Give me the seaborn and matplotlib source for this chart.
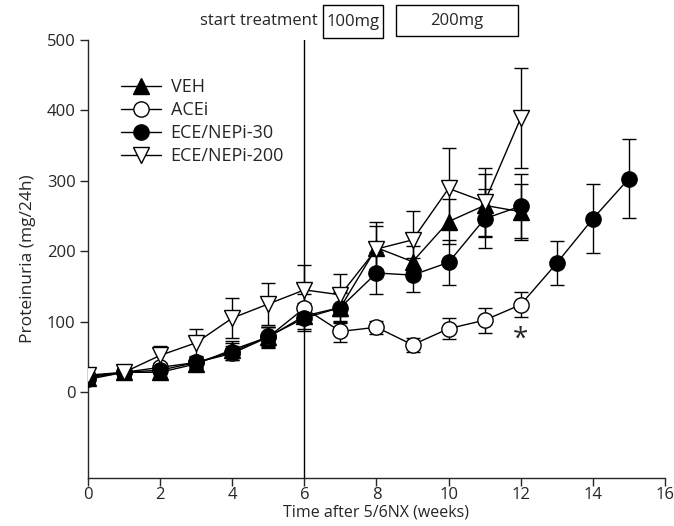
import numpy as np
import pandas as pd
import matplotlib
matplotlib.use('Agg')
import matplotlib.pyplot as plt
from matplotlib.patches import Rectangle
import seaborn as sns

# datos
semanas = [0, 1, 2, 3, 4, 5, 6, 7, 8, 9, 10, 11, 12]
semanas_acei = [0, 1, 2, 3, 4, 5, 6, 7, 8, 9, 10, 11, 12, 13, 14, 15]

veh = [20, 28, 28, 40, 60, 78, 108, 120, 205, 185, 242, 265, 256]
veh_err = [5, 5, 6, 8, 12, 15, 18, 20, 30, 22, 32, 45, 40]

# ACEi: despues de la semana 12 los puntos se dibujan rellenos
acei = [22, 28, 35, 42, 55, 78, 119, 86, 92, 67, 90, 102, 124, 183, 246, 303]
acei_err = [4, 5, 6, 7, 10, 14, 20, 15, 9, 10, 15, 18, 18, 31, 49, 56]
acei_relleno_desde = 13

ece30 = [18, 28, 31, 42, 57, 79, 105, 120, 169, 166, 184, 246, 264]
ece30_err = [4, 5, 6, 8, 12, 14, 18, 22, 30, 24, 32, 42, 45]

ece200 = [24, 28, 52, 70, 105, 125, 145, 138, 203, 216, 289, 270, 389]
ece200_err = [4, 5, 14, 19, 28, 30, 35, 30, 38, 41, 58, 48, 71]

sns.set_style("ticks")
plt.rcParams['font.family'] = ['Open Sans', 'DejaVu Sans']

fig = plt.figure(figsize=(6.74, 5.26), dpi=100)
ax = fig.add_axes([0.1306, 0.0913, 0.856, 0.833])

series = [
    ("VEH", semanas, veh, veh_err, "^", "black"),
    ("ACEi", semanas_acei, acei, acei_err, "o", "white"),
    ("ECE/NEPi-30", semanas, ece30, ece30_err, "o", "black"),
    ("ECE/NEPi-200", semanas, ece200, ece200_err, "v", "white"),
]

for nombre, x, y, err, marca, relleno in series:
    ax.errorbar(x, y, yerr=err, fmt='none', ecolor='black', elinewidth=1,
                capsize=5, capthick=1, zorder=2)

for nombre, x, y, err, marca, relleno in series:
    df = pd.DataFrame({"semana": x, "valor": y})
    extra = {}
    if nombre == "ACEi":
        extra["markevery"] = [i for i, s in enumerate(x) if s < acei_relleno_desde]
    sns.lineplot(data=df, x="semana", y="valor", ax=ax, color="black", lw=1,
                 marker=marca, markersize=11, markerfacecolor=relleno,
                 markeredgecolor="black", markeredgewidth=1, label=nombre,
                 zorder=3, **extra)

df_fin = pd.DataFrame({"semana": semanas_acei, "valor": acei})
df_fin = df_fin[df_fin["semana"] >= acei_relleno_desde]
sns.scatterplot(data=df_fin, x="semana", y="valor", ax=ax, marker="o", s=121,
                color="black", edgecolor="black", linewidth=1, zorder=4, legend=False)

ax.axvline(6, color="black", lw=1, zorder=1)
ax.text(12, 74, "*", ha="center", va="center", fontsize=20)

ax.set_xlim(0, 16)
ax.set_ylim(-122, 500)
ax.set_xticks(range(0, 17, 2))
ax.set_yticks(range(0, 501, 100))
ax.set_xlabel("Time after 5/6NX (weeks)", fontsize=11.5, va="center")
ax.xaxis.set_label_coords(0.5, -0.079)
ax.set_ylabel("Proteinuria (mg/24h)", fontsize=12.5, labelpad=8)
sns.despine(ax=ax)
ax.tick_params(direction="out", length=6, width=1, labelsize=12, pad=3)
ax.tick_params(axis="x", pad=0.5)
for s in ax.spines.values():
    s.set_linewidth(1)

W, H = 674, 526
ax.legend(loc="upper left", bbox_to_anchor=(121 / W, 1 - 78 / H),
          bbox_transform=fig.transFigure, frameon=False, borderpad=0,
          borderaxespad=0, handlelength=2.2, handletextpad=0.55,
          labelspacing=0.28, fontsize=13)

# anotaciones de tratamiento (encima del eje)
fig.text(318 / W, 1 - 21 / H, "start treatment", ha="right", va="center", fontsize=12)
fig.add_artist(Rectangle((323 / W, 1 - 38 / H), 60 / W, 33 / H, transform=fig.transFigure,
                         fill=False, edgecolor="black", lw=1))
fig.text(353 / W, 1 - 22 / H, "100mg", ha="center", va="center", fontsize=12)
fig.add_artist(Rectangle((396 / W, 1 - 36 / H), 122 / W, 31 / H, transform=fig.transFigure,
                         fill=False, edgecolor="black", lw=1))
fig.text(457 / W, 1 - 21 / H, "200mg", ha="center", va="center", fontsize=12)

fig.savefig("out.png", dpi=100)
plt.close(fig)
